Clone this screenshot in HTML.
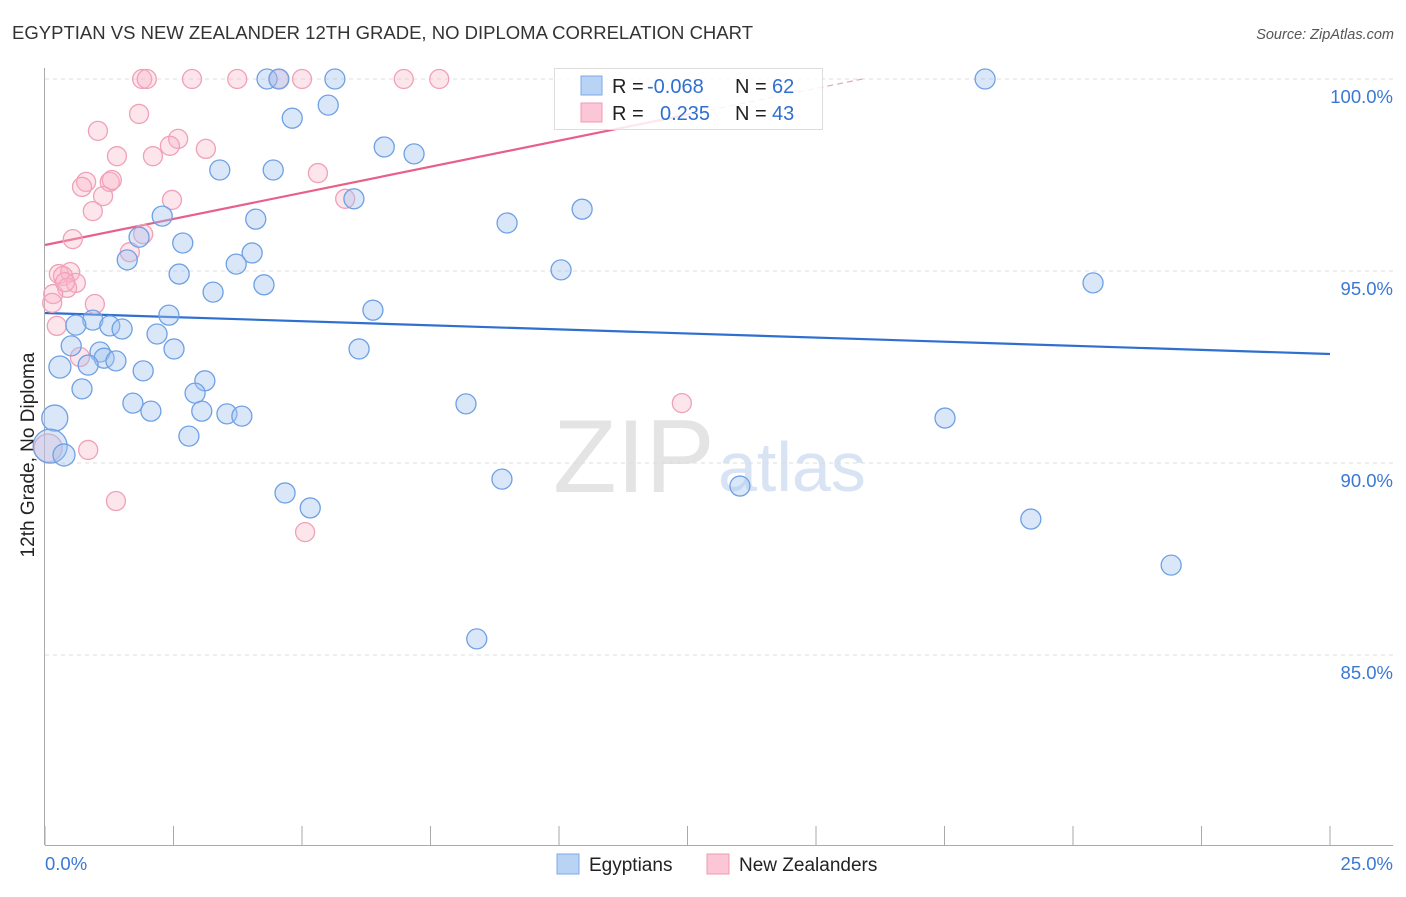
<!DOCTYPE html>
<html><head><meta charset="utf-8"><style>
body{margin:0;background:#fff;font-family:"Liberation Sans",sans-serif;}
svg text{font-family:"Liberation Sans",sans-serif;}
</style></head><body>
<svg id="chart" width="1406" height="892" xmlns="http://www.w3.org/2000/svg">
<text x="12" y="39" font-size="18" fill="#333" textLength="741" lengthAdjust="spacingAndGlyphs">EGYPTIAN VS NEW ZEALANDER 12TH GRADE, NO DIPLOMA CORRELATION CHART</text>
<text x="1394" y="39" font-size="14.5" fill="#555" text-anchor="end" font-style="italic">Source: ZipAtlas.com</text>
<text transform="translate(34,455) rotate(-90)" font-size="19" fill="#222" text-anchor="middle">12th Grade, No Diploma</text>
<text x="553" y="492" font-size="104" fill="#e4e4e4" font-family="Liberation Serif">ZIP</text>
<text x="718" y="491" font-size="70" fill="#d8e4f4">atlas</text>
<g id="grid"></g><g id="axes"></g><g id="lines"></g><g id="pts"></g>
<g>
<rect x="554.5" y="68.5" width="268" height="61" fill="rgba(255,255,255,0.85)" stroke="#ddd"/>
<rect x="581" y="76" width="21" height="19" fill="#b9d3f5" stroke="#7ea9e6"/>
<rect x="581" y="103" width="21" height="19" fill="#fbc6d6" stroke="#f09ab6"/>
<text x="612" y="93" font-size="20" fill="#222">R = <tspan fill="#2f6fd0" x="647">-0.068</tspan></text>
<text x="735" y="93" font-size="20" fill="#222">N = <tspan fill="#2f6fd0" x="772">62</tspan></text>
<text x="612" y="120" font-size="20" fill="#222">R = <tspan fill="#2f6fd0" x="660">0.235</tspan></text>
<text x="735" y="120" font-size="20" fill="#222">N = <tspan fill="#2f6fd0" x="772">43</tspan></text>
</g>
<g>
<rect x="557" y="854" width="22" height="20" fill="#b9d3f5" stroke="#7ea9e6"/>
<text x="589" y="871" font-size="19" fill="#222">Egyptians</text>
<rect x="707" y="854" width="22" height="20" fill="#fbc6d6" stroke="#f09ab6"/>
<text x="739" y="871" font-size="19" fill="#222">New Zealanders</text>
</g>
</svg>
<script>
const blueX=[4.32,4.55,5.64,18.29,5.51,4.81,6.60,7.18,3.40,4.44,6.01,10.45,2.28,4.10,8.99,1.83,2.68,4.03,1.60,3.72,10.04,2.61,4.26,3.27,20.39,6.38,2.41,0.93,0.60,1.26,1.50,2.18,0.51,2.51,6.11,1.07,1.15,1.38,0.29,0.84,1.91,3.11,0.72,2.92,1.71,2.06,3.05,3.54,3.83,8.19,17.51,0.19,2.80,0.10,0.37,8.89,13.52,4.67,5.16,19.18,21.91,8.40];
const blueY=[100,100,100,100,99.32,98.98,98.23,98.05,97.63,97.63,96.88,96.61,96.43,96.35,96.25,95.88,95.73,95.47,95.29,95.18,95.03,94.92,94.64,94.45,94.69,93.98,93.85,93.72,93.59,93.57,93.49,93.36,93.05,92.97,92.97,92.89,92.73,92.66,92.50,92.55,92.40,92.14,91.93,91.82,91.56,91.35,91.35,91.28,91.22,91.54,91.17,91.17,90.70,90.44,90.21,89.58,89.40,89.22,88.83,88.54,87.34,85.42];
const blueR=[10,10,10,10,10,10,10,10,10,10,10,10,10,10,10,10,10,10,10,10,10,10,10,10,10,10,10,10,10,10,10,10,10,10,10,10,10,10,11,10,10,10,10,10,10,10,10,10,10,10,10,13,10,17,11,10,10,10,10,10,10,10];
const pinkX=[1.89,1.98,2.86,3.74,4.55,5.00,6.98,7.67,1.83,1.03,2.59,2.43,3.13,1.40,2.10,5.31,1.26,0.80,1.30,0.72,1.13,2.47,5.84,0.93,1.91,0.54,1.65,0.27,0.49,0.35,0.60,0.43,0.16,0.14,0.97,0.23,0.68,12.39,0.06,0.84,1.38,5.06,0.39];
const pinkY=[100,100,100,100,100,100,100,100,99.09,98.65,98.44,98.26,98.18,97.99,97.99,97.55,97.32,97.32,97.37,97.19,96.95,96.85,96.88,96.56,95.96,95.83,95.49,94.92,94.97,94.87,94.69,94.56,94.40,94.17,94.14,93.57,92.76,91.56,90.39,90.34,89.01,88.20,94.71];
const yTicks=[100,95,90,85];
const yTickLabels=["100.0%","95.0%","90.0%","85.0%"];
const xTicks=[0,2.5,5,7.5,10,12.5,15,17.5,20,22.5,25];
const blueLine=[93.906,92.839];
const pinkLine=[95.677,0.2718];
const NS="http://www.w3.org/2000/svg";
const X=v=>45+v/25*1285;
const Y=v=>79+(100-v)*38.4;
function mk(tag,attrs,parent){const e=document.createElementNS(NS,tag);for(const k in attrs)e.setAttribute(k,attrs[k]);document.getElementById(parent).appendChild(e);return e;}
yTicks.forEach((t,i)=>{
 const l=mk('line',{x1:45,x2:1393,y1:Y(t),y2:Y(t),stroke:'#ddd','stroke-dasharray':'4,4'},'grid');
 
 
 const tx=mk('text',{x:1393,y:Y(t)+24,'font-size':18.5,fill:'#3a78d4','text-anchor':'end'},'grid');
 tx.textContent=yTickLabels[i];
 
 
});
let a=mk('line',{x1:44.5,x2:44.5,y1:68,y2:845,stroke:'#aaa'},'axes');


a=mk('line',{x1:45,x2:1393,y1:845.5,y2:845.5,stroke:'#aaa'},'axes');


xTicks.forEach(t=>{
 const l=mk('line',{x1:X(t),x2:X(t),y1:826,y2:845,stroke:'#aaa'},'axes');
 
 
});
let xl=mk('text',{x:45,y:870,'font-size':18.5,fill:'#3a78d4'},'axes');xl.textContent='0.0%';


xl=mk('text',{x:1393,y:870,'font-size':18.5,fill:'#3a78d4','text-anchor':'end'},'axes');xl.textContent='25.0%';


let bl=mk('line',{x1:X(0),y1:Y(blueLine[0]),x2:X(25),y2:Y(blueLine[1]),stroke:'#2f6fd0','stroke-width':2.2},'lines');


const xEnd=12.55, xTop=(100-pinkLine[0])/pinkLine[1];
let pl=mk('line',{x1:X(0),y1:Y(pinkLine[0]),x2:X(xEnd),y2:Y(pinkLine[0]+pinkLine[1]*xEnd),stroke:'#e8608a','stroke-width':2.2},'lines');


let pd=mk('line',{x1:X(xEnd),y1:Y(pinkLine[0]+pinkLine[1]*xEnd),x2:X(xTop),y2:Y(100),stroke:'#e8a0b6','stroke-width':1.2,'stroke-dasharray':'6,4'},'lines');


pinkX.forEach((x,i)=>{
 const c=mk('circle',{cx:X(x),cy:Y(pinkY[i]),r:i==38?14:9.5,fill:'rgba(248,180,200,0.35)',stroke:'#f0a0b8','stroke-width':1.3},'pts');
 
 
});
blueX.forEach((x,i)=>{
 const c=mk('circle',{cx:X(x),cy:Y(blueY[i]),r:blueR[i],fill:'rgba(160,195,240,0.4)',stroke:'#6fa0e4','stroke-width':1.3},'pts');
 
 
});
</script>
</body></html>
